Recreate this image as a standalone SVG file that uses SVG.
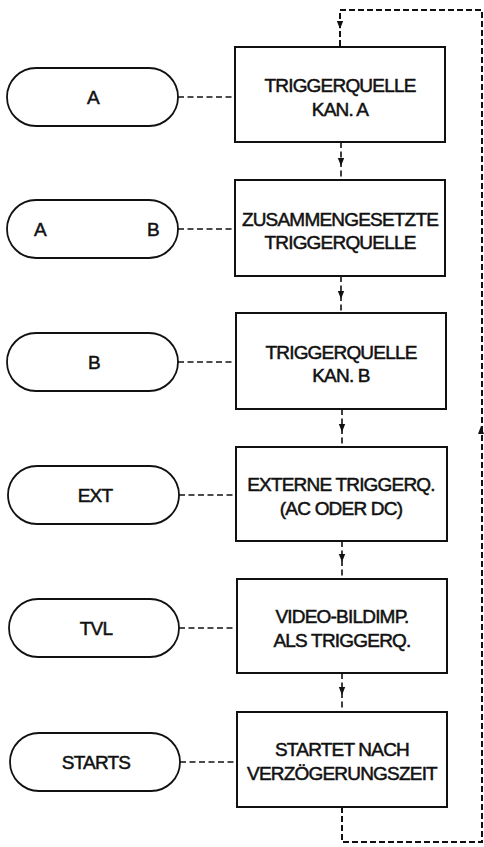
<svg xmlns="http://www.w3.org/2000/svg" xmlns:xlink="http://www.w3.org/1999/xlink" width="484" height="847" viewBox="0 0 484 847">
  <style>
    .box { fill: #fff; stroke: #111; stroke-width: 2; }
    .pill { fill: #fff; stroke: #111; stroke-width: 1.8; }
    .lbl { font-family: "Liberation Sans", Arial, Helvetica, sans-serif; font-size: 19px; letter-spacing: -0.8px; fill: #111; text-anchor: middle; stroke: #111; stroke-width: 0.5; }
    .dash { fill: none; stroke: #111; stroke-width: 1.6; stroke-dasharray: 6 3.5; }
    .loop { fill: none; stroke: #111; stroke-width: 2; stroke-dasharray: 6 3; }
    .arrow { fill: #111; }
  </style>
  <defs>
    <path id="tipDown" d="M-3.2,-4 L3.2,-4 L0,4 Z"/>
    <path id="tipUp" d="M-3,4 L3,4 L0,-4 Z"/>
  </defs>

  <!-- connectors -->
  <g id="connectors">
    <!-- side links from selector pills to the boxes -->
    <line class="dash" x1="178" y1="97" x2="235" y2="97"/>
    <line class="dash" x1="178" y1="229" x2="235" y2="229"/>
    <line class="dash" x1="178" y1="362" x2="236" y2="362"/>
    <line class="dash" x1="179" y1="495" x2="236" y2="495"/>
    <line class="dash" x1="179" y1="628" x2="237" y2="628"/>
    <line class="dash" x1="180" y1="762" x2="237" y2="762"/>

    <!-- downward steps between boxes -->
    <line class="dash" x1="341" y1="142" x2="341" y2="180"/>
    <use href="#tipDown" class="arrow" transform="translate(341,162)"/>
    <line class="dash" x1="341" y1="276" x2="341" y2="313"/>
    <use href="#tipDown" class="arrow" transform="translate(341,295)"/>
    <line class="dash" x1="342" y1="409" x2="342" y2="447"/>
    <use href="#tipDown" class="arrow" transform="translate(342,428)"/>
    <line class="dash" x1="342" y1="541" x2="342" y2="579"/>
    <use href="#tipDown" class="arrow" transform="translate(342,558)"/>
    <line class="dash" x1="342" y1="673" x2="342" y2="712"/>
    <use href="#tipDown" class="arrow" transform="translate(342,691)"/>

    <!-- return loop back to the first box -->
    <path class="loop" d="M342,807 V842 H482 V10 H340 V47"/>
    <use href="#tipDown" class="arrow" transform="translate(340,25)"/>
    <use href="#tipUp" class="arrow" transform="translate(481,430)"/>
  </g>

  <!-- mode boxes -->
  <g id="box-kan-a">
    <rect class="box" x="235" y="47" width="210" height="95"/>
    <text class="lbl" x="340" y="92">TRIGGERQUELLE</text>
    <text class="lbl" x="340" y="116">KAN. A</text>
  </g>
  <g id="box-zusammen">
    <rect class="box" x="235" y="180" width="210" height="96"/>
    <text class="lbl" x="340" y="226">ZUSAMMENGESETZTE</text>
    <text class="lbl" x="340" y="249">TRIGGERQUELLE</text>
  </g>
  <g id="box-kan-b">
    <rect class="box" x="236" y="313" width="210" height="96"/>
    <text class="lbl" x="341" y="359">TRIGGERQUELLE</text>
    <text class="lbl" x="341" y="382">KAN. B</text>
  </g>
  <g id="box-extern">
    <rect class="box" x="236" y="447" width="211" height="94"/>
    <text class="lbl" x="341" y="491">EXTERNE TRIGGERQ.</text>
    <text class="lbl" x="341" y="515">(AC ODER DC)</text>
  </g>
  <g id="box-video">
    <rect class="box" x="237" y="579" width="210" height="94"/>
    <text class="lbl" x="342" y="623">VIDEO-BILDIMP.</text>
    <text class="lbl" x="342" y="647">ALS TRIGGERQ.</text>
  </g>
  <g id="box-startet">
    <rect class="box" x="237" y="712" width="210" height="95"/>
    <text class="lbl" x="342" y="756">STARTET NACH</text>
    <text class="lbl" x="342" y="780">VERZÖGERUNGSZEIT</text>
  </g>

  <!-- selector pills -->
  <g id="pill-a">
    <rect class="pill" x="7" y="68" width="171" height="58" rx="29"/>
    <text class="lbl" x="93" y="104">A</text>
  </g>
  <g id="pill-ab">
    <rect class="pill" x="7" y="200" width="171" height="58" rx="29"/>
    <text class="lbl" x="40" y="236">A</text>
    <text class="lbl" x="153" y="236">B</text>
  </g>
  <g id="pill-b">
    <rect class="pill" x="7" y="333" width="171" height="58" rx="29"/>
    <text class="lbl" x="94" y="369">B</text>
  </g>
  <g id="pill-ext">
    <rect class="pill" x="8" y="466" width="171" height="58" rx="29"/>
    <text class="lbl" x="95" y="502">EXT</text>
  </g>
  <g id="pill-tvl">
    <rect class="pill" x="9" y="599" width="170" height="58" rx="29"/>
    <text class="lbl" x="96" y="635">TVL</text>
  </g>
  <g id="pill-starts">
    <rect class="pill" x="10" y="733" width="170" height="58" rx="29"/>
    <text class="lbl" x="96" y="769">STARTS</text>
  </g>
</svg>
